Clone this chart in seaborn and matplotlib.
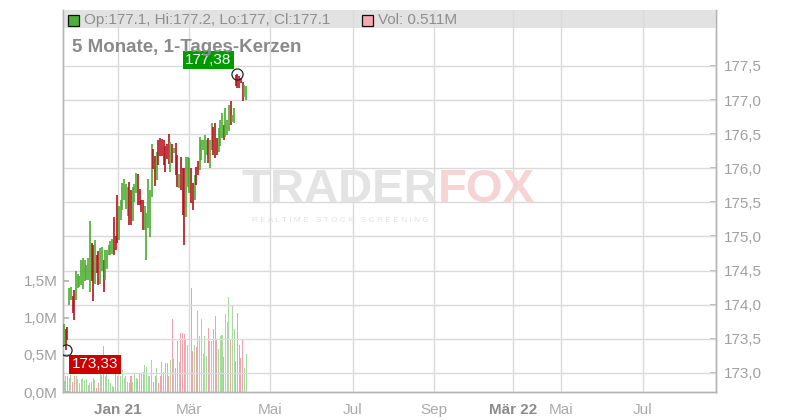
import pandas as pd
import matplotlib
matplotlib.use('Agg')
import matplotlib.pyplot as plt
from matplotlib.patches import Rectangle
import seaborn as sns

# daily candles (high / low / up-day) for ~5 months, oldest first
highs = [173.72, 173.64, 173.68, 174.24, 174.26, 174.13, 174.22, 174.50, 174.45, 174.42,
         174.66, 174.68, 174.66, 174.58, 174.68, 175.22, 174.91, 174.88, 174.95, 174.73,
         174.78, 174.83, 174.85, 174.66, 174.80, 174.80, 174.88, 174.93, 174.97, 175.29,
         175.00, 175.61, 175.44, 175.54, 175.78,
         175.84, 175.77, 175.73, 175.80, 175.68, 175.73, 175.77, 175.93, 175.92, 175.69,
         175.54, 175.54, 175.45, 175.34, 175.84, 175.68, 176.36, 176.28, 176.18, 176.24,
         176.41, 176.44, 176.43, 176.41, 176.32, 176.35, 176.50, 176.39, 176.36, 176.29,
         176.37, 176.20, 175.92,
         176.17, 176.00, 176.00, 176.17, 176.17, 176.15, 176.00, 175.78, 175.90, 176.02,
         176.10, 176.46, 176.41, 176.41, 176.49, 176.41, 176.44, 176.41, 176.66, 176.61,
         176.66, 176.44, 176.59, 176.71, 176.81, 176.63, 176.88, 176.71, 176.93, 176.98,
         176.78, 176.88, 177.36, 177.38, 177.35, 177.32, 177.27, 177.22, 177.20]
lows = [173.41, 173.33, 173.48, 173.99, 174.07, 173.88, 173.78, 174.07, 174.24, 174.26,
        174.29, 174.23, 174.34, 174.36, 174.36, 174.19, 174.34, 174.06, 174.31, 174.46,
        174.29, 174.31, 174.49, 174.19, 174.36, 174.53, 174.73, 174.73, 174.75, 174.73,
        174.80, 174.90, 174.95, 175.24, 175.39,
        175.54, 175.40, 175.30, 175.17, 175.17, 175.23, 175.50, 175.63, 175.46, 175.46,
        175.36, 175.10, 175.09, 174.65, 175.12, 174.99, 175.58, 175.99, 175.74, 175.83,
        176.05, 176.18, 176.18, 176.05, 175.94, 176.13, 176.06, 175.94, 176.07, 176.22,
        175.90, 175.72, 175.71,
        175.68, 175.32, 174.88, 175.29, 175.73, 175.63, 175.49, 175.39, 175.54, 175.76,
        175.90, 175.98, 176.12, 176.27, 176.07, 176.20, 176.07, 176.00, 176.27, 176.20,
        176.15, 176.20, 176.24, 176.32, 176.44, 176.41, 176.46, 176.49, 176.54, 176.63,
        176.68, 176.66, 177.20, 177.17, 177.17, 177.25, 176.98, 177.05, 177.00]
up = [1, 0, 0, 1, 1, 0, 0, 1, 1, 1, 1, 1, 1, 1, 1, 1, 0, 0, 1, 0,
      0, 1, 1, 0, 1, 1, 1, 1, 1, 0, 0, 0, 1, 1, 1,
      1, 1, 1, 0, 0, 1, 1, 1, 0, 0, 0, 0, 1, 1, 1, 1, 1, 0, 0, 1,
      0, 0, 0, 0, 0, 0, 0, 1, 0, 1, 0, 0, 1,
      0, 0, 0, 1, 1, 1, 0, 0, 1, 0, 0, 1, 1, 1, 1, 1, 0, 1, 1, 0,
      0, 0, 1, 1, 1, 0, 1, 1, 1, 0, 1, 1, 0, 0, 0, 0, 0, 1, 1]
volumes = [0.15, 0.21, 0.22, 0.19, 0.23, 0.14, 0.22, 0.21, 0.17, 0.12,
           0.17, 0.19, 0.16, 0.18, 0.09, 0.12, 0.14, 0.19, 0.16, 0.05,
           0.12, 0.25, 0.23, 0.62, 0.21, 0.39, 0.17, 0.12, 0.08, 0.07,
           0.27, 0.21, 0.25, 0.21, 0.30, 0.19, 0.21, 0.14, 0.12, 0.21,
           0.13, 0.25, 0.19, 0.17, 0.25, 0.25, 0.27, 0.36, 0.34, 0.21,
           0.21, 0.43, 0.14, 0.22, 0.32, 0.12,
           0.21, 0.41, 0.27, 0.39, 0.39, 0.22, 0.43, 0.98, 0.45, 0.32,
           0.69, 0.41, 0.80, 0.80, 0.78, 0.71, 0.63, 0.69, 1.40, 0.55,
           0.64, 0.61, 1.09, 0.76, 0.99, 0.52, 0.75, 0.48, 0.86, 0.69,
           0.69, 0.85, 1.03, 0.70, 0.58, 0.75, 0.77, 0.47, 1.06, 0.94,
           1.29, 0.72, 1.16, 0.85, 0.42, 1.07, 0.64, 0.46, 0.71, 0.32, 0.51]

# month ticks, in trading-day index units
month_pos = [31.4, 72.5, 120.0, 168.1, 215.5, 261.3, 289.5, 337.2]
month_labels = ['Jan 21', 'Mär', 'Mai', 'Jul', 'Sep', 'Mär 22', 'Mai', 'Jul']
year_labels = ['Jan 21', 'Mär 22']
price_ticks = [173.0, 173.5, 174.0, 174.5, 175.0, 175.5, 176.0, 176.5, 177.0, 177.5]
vol_ticks = [0.0, 0.5, 1.0, 1.5]
low_val, high_val = 173.33, 177.38

sns.set_theme(style='white')
plt.rcParams['font.family'] = ['Liberation Sans', 'DejaVu Sans']

GREEN, RED = '#4aab2c', '#b5121b'
VGREEN, VPINK = '#a6da9e', '#f2a2ab'
AXC, TXT = '#b4b4b4', '#a0a0a0'

fig = plt.figure(figsize=(8, 4.2), dpi=100)
ax_v = fig.add_axes([63 / 800, 28 / 420, 653 / 800, 382 / 420])
ax_p = ax_v.twinx()

df = pd.DataFrame({'day': range(len(volumes)), 'vol': volumes,
                   'dir': ['up' if u else 'down' for u in up]})
sns.barplot(data=df, x='day', y='vol', hue='dir', native_scale=True, dodge=False,
            palette={'up': VGREEN, 'down': VPINK}, width=0.6, errorbar=None,
            saturation=1, linewidth=0, legend=False, ax=ax_v)
ax_v.set_xlabel('')
ax_v.set_ylabel('')

# header band + grid (on the price axis, which shares x)
ax_p.add_patch(Rectangle((0, 1 - 18 / 382), 1, 18 / 382, transform=ax_p.transAxes,
                         fc='#e2e2e2', ec='none', zorder=0))
for p in price_ticks:
    ax_p.axhline(p, color='#dadada', lw=1, zorder=1)
for m in month_pos:
    ax_p.axvline(m, color='#dadada', lw=1, zorder=1)

days = list(range(len(highs)))
ax_p.vlines(days, lows, highs, colors=[GREEN if u else RED for u in up], lw=1.2, zorder=3)

i_low = lows.index(min(lows))
i_high = highs.index(max(highs))
ax_p.plot([i_low, i_high], [low_val, high_val], 'o', mfc='none', mec='#222222',
          ms=8, mew=0.9, zorder=4)
ax_p.annotate('177,38', xy=(i_high, high_val), xytext=(-6, 14), textcoords='offset pixels',
              ha='right', va='center', color='white', fontsize=11, zorder=5,
              bbox=dict(boxstyle='square,pad=0.15', fc='#009a00', ec='none'))
ax_p.annotate('173,33', xy=(i_low, low_val), xytext=(6, -14), textcoords='offset pixels',
              ha='left', va='center', color='white', fontsize=11, zorder=5,
              bbox=dict(boxstyle='square,pad=0.15', fc='#cc0000', ec='none'))

ax_v.set_xlim(-0.6, 379.7)
ax_v.set_ylim(0, 5.16)
ax_p.set_ylim(172.72, 178.32)

ax_v.set_xticks(month_pos)
ax_v.set_xticklabels(month_labels)
for lab in ax_v.get_xticklabels():
    if lab.get_text() in year_labels:
        lab.set_fontweight('bold')
        lab.set_color('#8c8c8c')
    else:
        lab.set_color('#aaaaaa')
ax_v.set_yticks(vol_ticks)
ax_v.set_yticklabels([f'{v:.1f}M'.replace('.', ',') for v in vol_ticks])
ax_p.set_yticks(price_ticks)
ax_p.set_yticklabels([f'{p:.1f}'.replace('.', ',') for p in price_ticks])

ax_v.tick_params(axis='x', direction='out', length=4, color=AXC, labelsize=11, pad=4)
ax_v.tick_params(axis='y', direction='in', length=4, color=AXC, labelsize=11,
                 labelcolor=TXT, pad=4, left=True)
ax_p.tick_params(axis='y', direction='in', length=4, color=AXC, labelsize=11,
                 labelcolor=TXT, pad=6, right=True)
for ax in (ax_v, ax_p):
    ax.spines['top'].set_visible(False)
    for s in ('left', 'right', 'bottom'):
        ax.spines[s].set_color(AXC)
        ax.spines[s].set_linewidth(1)
ax_v.grid(False)
ax_p.grid(False)

# header legend
fig.add_artist(Rectangle((68 / 800, 1 - 26 / 420), 11 / 800, 11 / 420, transform=fig.transFigure,
                         fc='#4caf3a', ec='#111111', lw=0.9))
fig.text(84 / 800, 1 - 20 / 420, 'Op:177.1, Hi:177.2, Lo:177, Cl:177.1', color='#8e8e8e',
         fontsize=11, va='center')
fig.add_artist(Rectangle((362 / 800, 1 - 26 / 420), 11 / 800, 11 / 420, transform=fig.transFigure,
                         fc='#f4a8b0', ec='#111111', lw=0.9))
fig.text(378 / 800, 1 - 20 / 420, 'Vol: 0.511M', color='#8e8e8e', fontsize=11, va='center')
fig.text(72 / 800, 1 - 47 / 420, '5 Monate, 1-Tages-Kerzen', color='#8a8a8a',
         fontsize=13.5, fontweight='bold', va='center')

# watermark
fig.text(438 / 800, 1 - 190 / 420, 'TRADER', color='#e3e3e3', fontsize=34,
         fontweight='bold', ha='right', va='center', zorder=0)
fig.text(438 / 800, 1 - 190 / 420, 'FOX', color='#f6d4d4', fontsize=34,
         fontweight='bold', ha='left', va='center', zorder=0)
fig.text(340 / 800, 1 - 220 / 420, 'R E A L T I M E   S T O C K   S C R E E N I N G',
         color='#e2e2e2', fontsize=6, ha='center', va='center', zorder=0)

fig.savefig('out.png', dpi=100)
